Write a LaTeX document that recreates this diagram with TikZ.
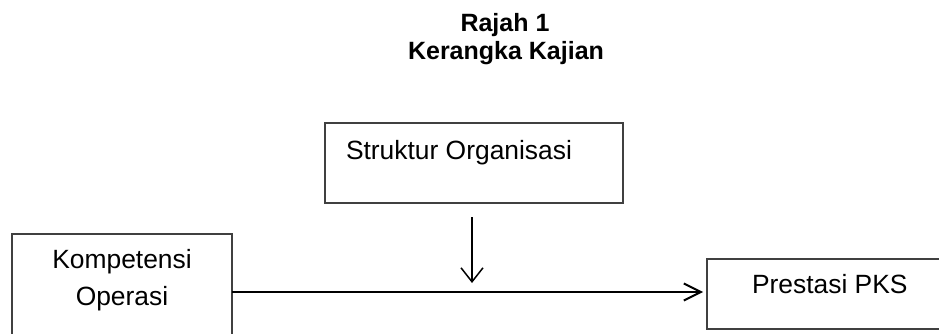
\documentclass[tikz,border=0pt]{standalone}
\usepackage{fontspec}
\setmainfont{Liberation Sans}
\usetikzlibrary{arrows.meta}
\tikzset{
  boxshape/.style={draw=black!75, line width=1.4pt, rectangle, inner sep=0pt, outer sep=0pt},
  txt/.style={inner sep=0pt, outer sep=0pt, font=\fontsize{26.4}{30}\selectfont},
  ttl/.style={inner sep=0pt, outer sep=0pt, font=\fontsize{25}{28}\selectfont\bfseries},
  varr/.style={-{Straight Barb[length=14pt,width=22pt,line width=1.5pt]}, line width=1.6pt, black},
  harr/.style={-{Straight Barb[length=17pt,width=17pt,line width=2pt]}, line width=2.5pt, black}
}
\begin{document}
\begin{tikzpicture}[x=1pt,y=-1pt]
\fill[white] (0,0) rectangle (939,334);
\clip (0,0) rectangle (939,334);
% title
\node[ttl, anchor=base] (t1) at (505,32) {Rajah 1};
\node[ttl, anchor=base] (t2) at (506,60) {Kerangka Kajian};
% boxes
\node[boxshape, minimum width=298pt, minimum height=80pt, anchor=north west] (struk) at (325,123) {};
\node[boxshape, minimum width=220pt, minimum height=130pt, anchor=north west] (komp) at (12,234) {};
\node[boxshape, minimum width=240pt, minimum height=70pt, anchor=north west] (pres) at (707,259) {};
% texts
\node[txt, anchor=base west] (tS) at (346,159) {Struktur Organisasi};
\node[txt, anchor=base] (tK1) at (122,268) {Kompetensi};
\node[txt, anchor=base] (tK2) at (122,305) {Operasi};
\node[txt, anchor=base west] (tP) at (752,293) {Prestasi PKS};
% connectors
\coordinate (h) at (0,292);
\coordinate (vs) at (472,217);
\coordinate (ve) at (472,283);
\draw[harr] (komp.east |- h) -- ([xshift=-4pt]pres.west |- h);
\draw[varr] (vs) -- (ve);
\end{tikzpicture}
\end{document}
